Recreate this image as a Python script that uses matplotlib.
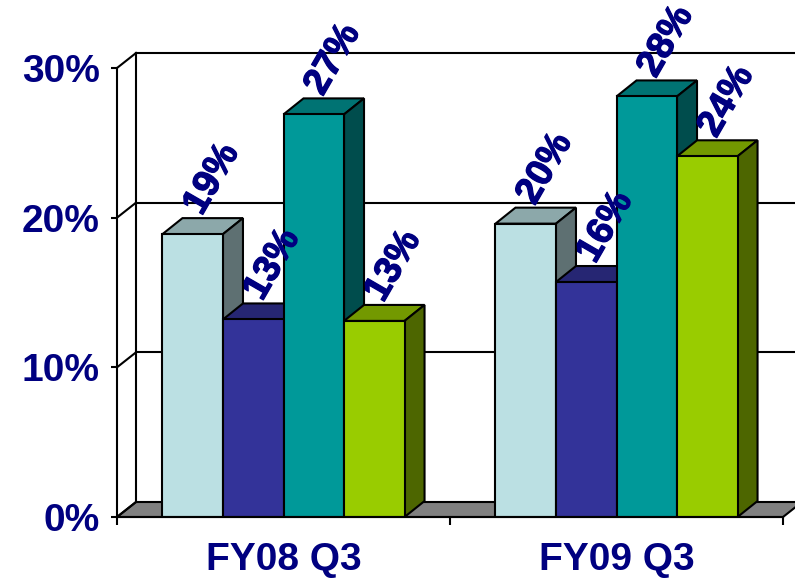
import matplotlib
matplotlib.use("Agg")
import matplotlib.pyplot as plt
import matplotlib.patheffects as pe
from matplotlib.patches import Polygon
from matplotlib.colors import to_rgb
import numpy as np

# ---- data ----
categories = ["FY08 Q3", "FY09 Q3"]
series_a = [18.9, 19.6]   # light blue
series_b = [13.2, 15.7]   # dark blue
series_c = [26.9, 28.1]   # teal
series_d = [13.1, 24.1]   # green
y_ticks = [0, 10, 20, 30]

# ---- style ----
front_colors = ["#BBE0E3", "#333399", "#009999", "#99CC00"]
NAVY = "#000080"
LW = 1.5

plt.rcParams['font.family'] = ['Liberation Sans', 'DejaVu Sans']
plt.rcParams['font.weight'] = 'bold'

fig = plt.figure(figsize=(7.95, 5.79), dpi=100)
ax = fig.add_axes([117/795, 62/579, 666/795, 449/579])
n = len(categories)
ymax = y_ticks[-1]
ax.set_xlim(0, n)
ax.set_ylim(0, ymax)
ax.patch.set_visible(False)

# pixels per data unit
p0 = ax.transData.transform((0, 0))
p1 = ax.transData.transform((1, 1))
px_x, px_y = p1[0] - p0[0], p1[1] - p0[1]

fdx, fdy = 19 / px_x, 15 / px_y     # floor / wall depth
bdx, bdy = 20 / px_x, 16 / px_y     # bar depth
lab_dx, lab_dy = 19 / px_x, 55 / px_y

# ---- walls & floor ----
floor = Polygon([(0, 0), (n, 0), (n + fdx, fdy), (fdx, fdy)], closed=True,
                facecolor="#808080", edgecolor="black", lw=LW, clip_on=False, zorder=1)
ax.add_patch(floor)
ax.plot([fdx, fdx], [fdy, ymax + fdy], color='k', lw=LW, clip_on=False, zorder=1)
for t in y_ticks:
    ax.plot([0, fdx], [t, t + fdy], color='k', lw=LW, clip_on=False, zorder=1)
    if t > 0:
        ax.plot([fdx, n + fdx], [t + fdy, t + fdy], color='k', lw=LW,
                clip_on=False, zorder=1)

# ---- bars ----
series = [series_a, series_b, series_c, series_d]
nser = len(series)
gap = 0.273
w = (1 - gap) / nser
for s in range(nser):
    xs = [g + gap / 2 + s * w for g in range(n)]
    fc = np.array(to_rgb(front_colors[s]))
    bars = ax.bar(xs, series[s], width=w, align='edge', color=fc,
                  edgecolor='k', lw=LW)
    for g, (x0, v, patch) in enumerate(zip(xs, series[s], bars.patches)):
        z = 3 + g * 10 + s
        patch.set_zorder(z + 0.5)
        top = Polygon([(x0, v), (x0 + w, v), (x0 + w + bdx, v + bdy), (x0 + bdx, v + bdy)],
                      closed=True, facecolor=fc * 0.75, edgecolor='k', lw=LW,
                      zorder=z, clip_on=False)
        side = Polygon([(x0 + w, 0), (x0 + w, v), (x0 + w + bdx, v + bdy), (x0 + w + bdx, bdy)],
                       closed=True, facecolor=fc * 0.5, edgecolor='k', lw=LW,
                       zorder=z, clip_on=False)
        ax.add_patch(top)
        ax.add_patch(side)
        ax.text(x0 + w / 2 + lab_dx, v + lab_dy, f"{v:.0f}%", rotation=60,
                ha='center', va='center', fontsize=27, color=NAVY,
                fontweight='bold', zorder=100, clip_on=False,
                path_effects=[pe.withStroke(linewidth=0.9, foreground=NAVY)])

# ---- axes ----
ax.set_yticks(y_ticks)
ax.set_yticklabels([f"{t}%" for t in y_ticks])
ax.tick_params(axis='y', direction='out', length=4.3, width=LW, pad=8,
               labelsize=28, labelcolor=NAVY)
ax.set_xticks(range(n + 1))
ax.set_xticklabels([])
ax.set_xticks([g + 0.5 for g in range(n)], minor=True)
ax.set_xticklabels(categories, minor=True)
ax.tick_params(axis='x', which='major', direction='out', length=6, width=LW)
ax.tick_params(axis='x', which='minor', length=0, pad=18, labelsize=28,
               labelcolor=NAVY)
for sp in ['top', 'right']:
    ax.spines[sp].set_visible(False)
for sp in ['left', 'bottom']:
    ax.spines[sp].set_linewidth(LW)
    ax.spines[sp].set_zorder(50)

fig.savefig("out.png", dpi=100)
